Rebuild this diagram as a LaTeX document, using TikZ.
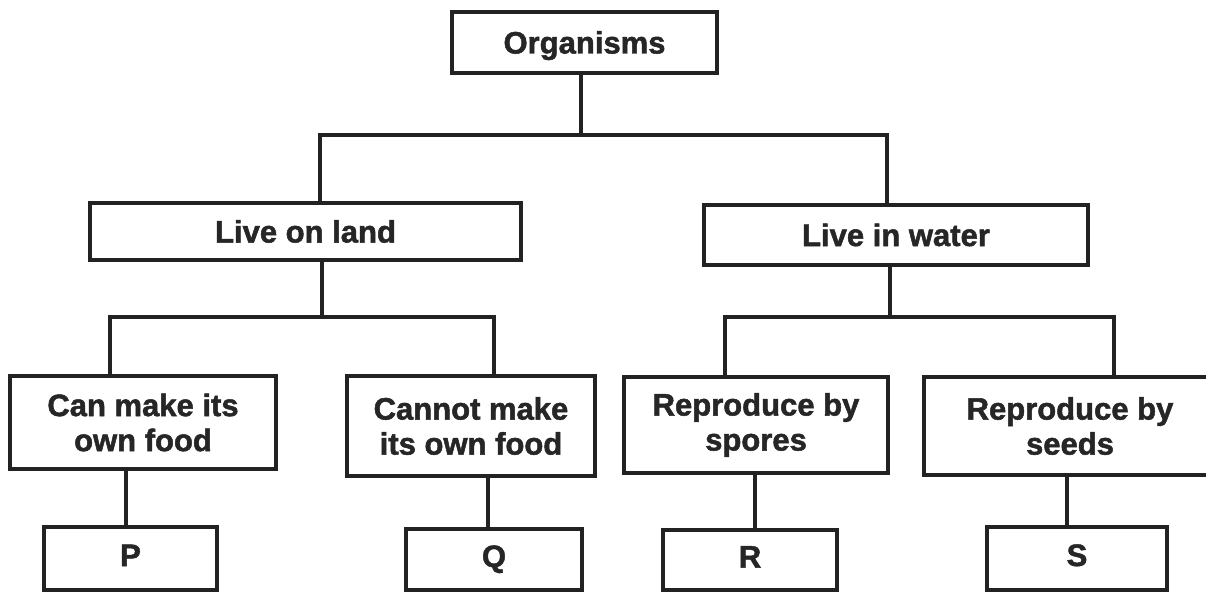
\documentclass[tikz,border=0pt]{standalone}
\usepackage{fontspec}
\setmainfont{Liberation Sans}[BoldFeatures={FakeBold=1.6}]
\definecolor{linec}{HTML}{222222}
\definecolor{textc}{HTML}{262626}
\begin{document}
\begin{tikzpicture}[x=1pt,y=-1pt,
  box/.style={draw=linec, line width=3.1pt, fill=white, inner sep=0pt, align=center,
    font=\bfseries\fontsize{31}{35}\selectfont, text=textc},
  one/.style={text height=22pt, text depth=0pt},
  conn/.style={draw=linec, line width=3.1pt}]
\useasboundingbox (0,0) rectangle (1206,591);
\clip (0,0) rectangle (1206,591);
\fill[white] (0,0) rectangle (1206,591);
% nodes
\node[box, one, minimum width=265pt, minimum height=61pt] (org) at (584.5,42.5) {Organisms};
\node[box, one, minimum width=431pt, minimum height=57pt] (land) at (305.5,231.5) {Live on land};
\node[box, one, minimum width=384pt, minimum height=60pt] (water) at (896,235) {Live in water};
\node[box, minimum width=266pt, minimum height=93pt] (can) at (143,422.5) {Can make its\\own food};
\node[box, minimum width=248pt, minimum height=100pt] (cannot) at (471,426) {Cannot make\\its own food};
\node[box, minimum width=264pt, minimum height=96pt] (spores) at (756,425) {Reproduce by\\spores};
\node[box, minimum width=292pt, minimum height=98pt] (seeds) at (1070,426) {Reproduce by\\seeds};
\node[box, text height=23pt, text depth=8pt, minimum width=173pt, minimum height=63pt] (P) at (130.5,558.5) {P};
\node[box, text height=23pt, text depth=8pt, minimum width=176pt, minimum height=61pt] (Q) at (494,559.5) {Q};
\node[box, text height=23pt, text depth=8pt, minimum width=174pt, minimum height=60pt] (R) at (750,560) {R};
\node[box, text height=23pt, text depth=8pt, minimum width=180pt, minimum height=63pt] (S) at (1077,558.5) {S};
% bus coordinates
\coordinate (t0) at (581,135);
\coordinate (t1) at (320,135);
\coordinate (t2) at (887,135);
\coordinate (u0) at (322,317);
\coordinate (u1) at (110,317);
\coordinate (u2) at (494,317);
\coordinate (v0) at (890,317);
\coordinate (v1) at (725,317);
\coordinate (v2) at (1114,317);
\coordinate (xP) at (126,0);
\coordinate (xQ) at (488,0);
\coordinate (xR) at (755,0);
\coordinate (xS) at (1067,0);
% connectors
\draw[conn] (org.south -| t0) -- (t0);
\draw[conn] (land.north -| t1) |- (t2) -- (water.north -| t2);
\draw[conn] (land.south -| u0) -- (u0);
\draw[conn] (can.north -| u1) |- (u2) -- (cannot.north -| u2);
\draw[conn] (water.south -| v0) -- (v0);
\draw[conn] (spores.north -| v1) |- (v2) -- (seeds.north -| v2);
\draw[conn] (can.south -| xP) -- (P.north -| xP);
\draw[conn] (cannot.south -| xQ) -- (Q.north -| xQ);
\draw[conn] (spores.south -| xR) -- (R.north -| xR);
\draw[conn] (seeds.south -| xS) -- (S.north -| xS);
\end{tikzpicture}
\end{document}
